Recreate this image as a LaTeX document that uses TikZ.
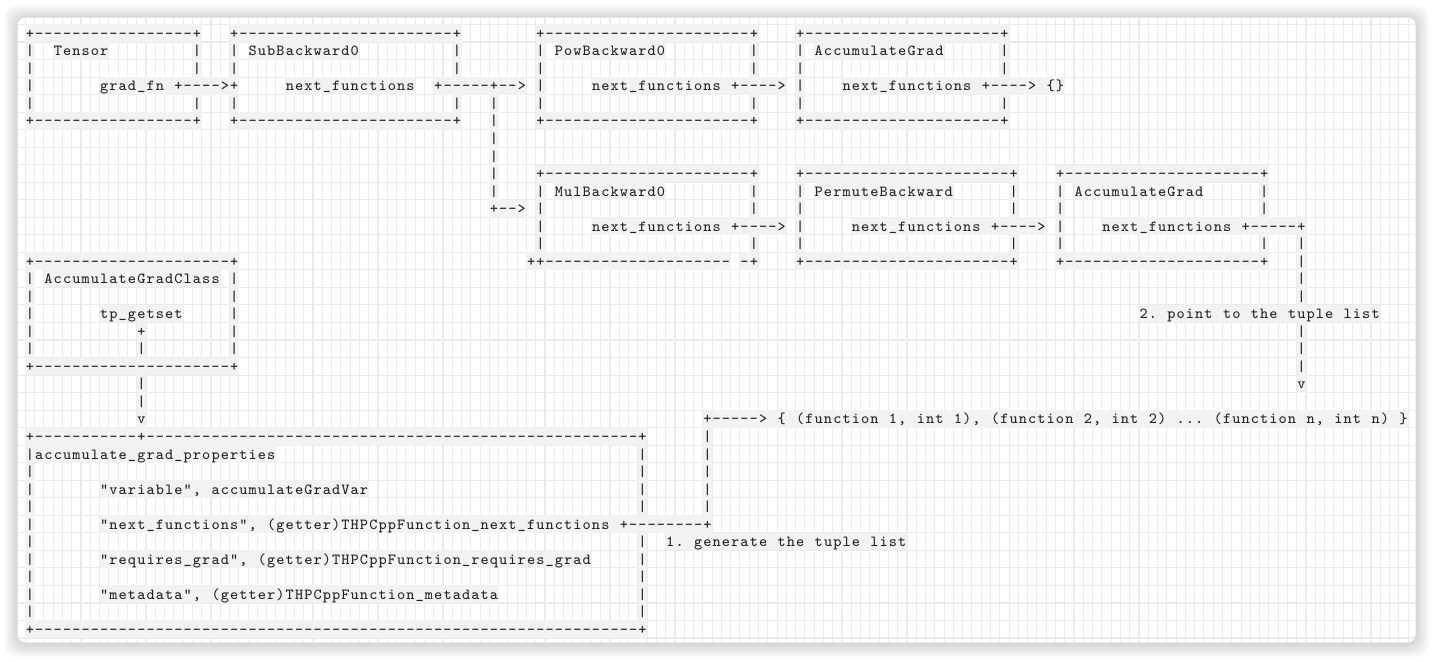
\documentclass[tikz,border=0pt]{standalone}
\usepackage{xcolor}
\definecolor{hl}{HTML}{F2F2F2}
\definecolor{gridc}{HTML}{EBEBEB}
\definecolor{txt}{HTML}{222222}

\ExplSyntaxOn
\cs_new:Npn \fw_cell:n #1 { \hbox_to_wd:nn {4.64pt} { \hss #1 \hss } }
\NewDocumentCommand \fwtext { m } { \str_map_inline:nn {#1} { \fw_cell:n {##1} } }
\NewDocumentCommand \fwrep { m m } { \prg_replicate:nn {#1} { \fw_cell:n {#2} } }
\NewDocumentCommand \fwcell { m } { \fw_cell:n {#1} }
\ExplSyntaxOff

\newcount\segc
% text segment: row, column, text
\newcommand\T[3]{\global\advance\segc by 1
  \node[seg] (s\the\segc) at ({25.36+9.28*(#2)},{38.3+17.53*(#1)}) {\fwtext{#3}};}
% horizontal border run: row, first col, last col  (+----+)
\newcommand\HB[3]{\global\advance\segc by 1
  \node[seg] (s\the\segc) at ({25.36+9.28*(#2)},{38.3+17.53*(#1)}) {\fwcell{+}\fwrep{#3-#2-1}{-}\fwcell{+}};}
% vertical bars: row, list of columns
\newcommand\Bars[2]{\foreach \cc in {#2} {\T{#1}{\cc}{|}}}

\tikzset{
  seg/.style={anchor=base west, inner sep=0pt, outer sep=0pt, fill=hl, text=txt,
    font=\fontsize{7.7pt}{8pt}\selectfont\ttfamily, text height=6.93pt, text depth=1.84pt},
  gridline/.style={draw=gridc, line width=0.55pt},
}

\begin{document}
\begin{tikzpicture}[x=0.5pt,y=-0.5pt]
\useasboundingbox (0,0) rectangle (1433,661);
\fill[white] (0,0) rectangle (1433,661);
% card shadow
\foreach \i in {1,...,14} {
  \fill[black, opacity=0.012, rounded corners=6pt] ({17.5-\i},{17.5-\i+1}) rectangle ({1415.5+\i},{642.5+\i+1});
}
\fill[white, rounded corners=4pt] (17.5,17.5) rectangle (1415.5,642.5);
\begin{scope}
\clip[rounded corners=4pt] (17.5,17.5) rectangle (1415.5,642.5);
\foreach \k in {-1,...,148} { \draw[gridline] ({34.64+9.28*\k},17.5) -- ({34.64+9.28*\k},642.5); }
\foreach \k in {-1,...,34} { \draw[gridline] (17.5,{41.98+17.53*\k}) -- (1415.5,{41.98+17.53*\k}); }
\end{scope}

% row 0
\HB{0}{0}{18} \HB{0}{22}{46} \HB{0}{55}{78} \HB{0}{83}{105}
% row 1
\Bars{1}{0,18,22,46,55,78,83,105}
\T{1}{3}{Tensor} \T{1}{24}{SubBackward0} \T{1}{57}{PowBackward0} \T{1}{85}{AccumulateGrad}
% row 2
\Bars{2}{0,18,22,46,55,78,83,105}
% row 3
\Bars{3}{0,55,83}
\T{3}{8}{grad_fn +---->+}
\T{3}{28}{next_functions}
\T{3}{44}{+-----+-->}
\T{3}{61}{next_functions +---->}
\T{3}{88}{next_functions +----> {}}
% row 4
\Bars{4}{0,18,22,46,50,55,78,83,105}
% row 5
\HB{5}{0}{18} \HB{5}{22}{46} \HB{5}{55}{78} \HB{5}{83}{105}
\Bars{5}{50}
% rows 6-7
\Bars{6}{50} \Bars{7}{50}
% row 8
\Bars{8}{50}
\HB{8}{55}{78} \HB{8}{83}{106} \HB{8}{111}{133}
% row 9
\Bars{9}{50,55,78,83,106,111,133}
\T{9}{57}{MulBackward0} \T{9}{85}{PermuteBackward} \T{9}{113}{AccumulateGrad}
% row 10
\T{10}{50}{+-->}
\Bars{10}{55,78,83,106,111,133}
% row 11
\Bars{11}{55,83,111}
\T{11}{61}{next_functions +---->}
\T{11}{89}{next_functions +---->}
\T{11}{116}{next_functions +-----+}
% row 12
\Bars{12}{55,78,83,106,111,133,137}
% row 13
\HB{13}{0}{22}
\T{13}{54}{++--------------------}
\T{13}{77}{-+}
\HB{13}{83}{106} \HB{13}{111}{133}
\Bars{13}{137}
% row 14
\Bars{14}{0,22,137}
\T{14}{2}{AccumulateGradClass}
% row 15
\Bars{15}{0,22,137}
% row 16
\Bars{16}{0,22}
\T{16}{8}{tp_getset}
\T{16}{120}{2. point to the tuple list}
% row 17
\Bars{17}{0,22,137}
\T{17}{12}{+}
% row 18
\Bars{18}{0,12,22,137}
% row 19
\HB{19}{0}{22}
\Bars{19}{137}
% row 20
\Bars{20}{12}
\T{20}{137}{v}
% row 21
\Bars{21}{12}
% row 22
\T{22}{12}{v}
\T{22}{73}{+-----> { (function 1, int 1), (function 2, int 2) ... (function n, int n) }}
% row 23
\HB{23}{0}{12} \HB{23}{12}{66}
\Bars{23}{73}
% row 24
\Bars{24}{0,66,73}
\T{24}{1}{accumulate_grad_properties}
% row 25
\Bars{25}{0,66,73}
% row 26
\Bars{26}{0,66,73}
\T{26}{8}{"variable", accumulateGradVar}
% row 27
\Bars{27}{0,66,73}
% row 28
\Bars{28}{0}
\T{28}{8}{"next_functions", (getter)THPCppFunction_next_functions +--------+}
% row 29
\Bars{29}{0,66}
\T{29}{69}{1. generate the tuple list}
% row 30
\Bars{30}{0,66}
\T{30}{8}{"requires_grad", (getter)THPCppFunction_requires_grad}
% rows 31-33
\Bars{31}{0,66}
\Bars{32}{0,66}
\T{32}{8}{"metadata", (getter)THPCppFunction_metadata}
\Bars{33}{0,66}
% row 34
\HB{34}{0}{66}
\end{tikzpicture}
\end{document}
